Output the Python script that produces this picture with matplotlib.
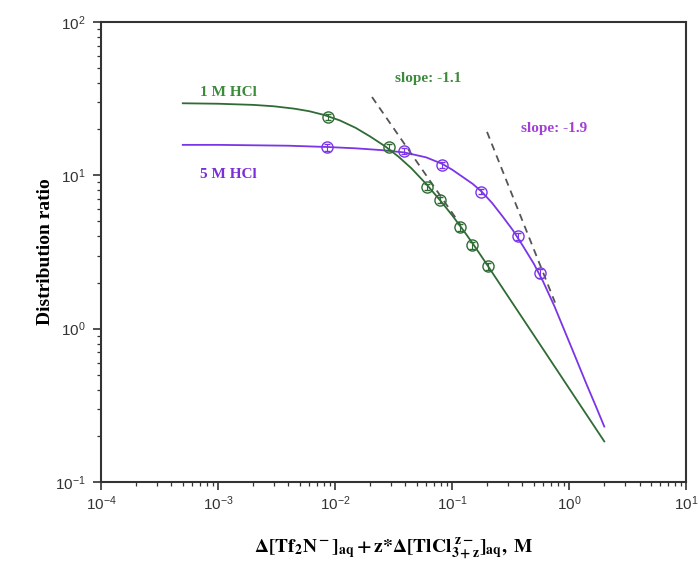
import matplotlib
matplotlib.use("Agg")
import matplotlib.pyplot as plt
from matplotlib.ticker import LogLocator, LogFormatterMathtext, NullFormatter

plt.rcParams['font.family'] = ['Liberation Sans', 'DejaVu Sans']
plt.rcParams['mathtext.default'] = 'regular'

# measured points, 1 M HCl
x_1m = [0.0087, 0.029, 0.061, 0.079, 0.117, 0.148, 0.203]
d_1m = [24.0, 15.3, 8.4, 6.9, 4.6, 3.5, 2.55]
err_1m = [1.0, 0.7, 0.4, 0.3, 0.25, 0.2, 0.15]

# measured points, 5 M HCl
x_5m = [0.0086, 0.039, 0.082, 0.177, 0.366, 0.565]
d_5m = [15.3, 14.4, 11.7, 7.8, 4.0, 2.3]
err_5m = [0.8, 0.6, 0.5, 0.3, 0.2, 0.15]

# fitted curves
fit_x_1m = [5e-4, 1e-3, 2e-3, 3e-3, 4.5e-3, 6e-3, 8e-3, 0.011, 0.015, 0.02,
            0.027, 0.035, 0.045, 0.06, 0.08, 0.1, 0.13, 0.16, 0.2, 0.3,
            0.5, 0.8, 1.2, 2.0]
fit_d_1m = [29.5, 29.3, 28.8, 28.2, 27.2, 26.2, 24.8, 22.8, 20.4, 17.9,
            15.4, 13.2, 11.1, 8.8, 6.8, 5.5, 4.2, 3.35, 2.6, 1.63,
            0.907, 0.528, 0.331, 0.184]

fit_x_5m = [5e-4, 1e-3, 2e-3, 4e-3, 8.6e-3, 0.015, 0.025, 0.039, 0.06, 0.082,
            0.1, 0.12, 0.15, 0.18, 0.22, 0.27, 0.33, 0.4, 0.5, 0.6,
            0.75, 0.9, 1.1, 1.4, 1.7, 2.0]
fit_d_5m = [15.8, 15.8, 15.7, 15.6, 15.3, 15.0, 14.6, 14.1, 13.1, 11.9,
            10.9, 9.9, 8.8, 7.8, 6.6, 5.4, 4.4, 3.5, 2.65, 2.03,
            1.4, 1.0, 0.69, 0.44, 0.31, 0.23]

# slope guide lines
slope1_x = [0.0207, 0.117]
slope1_d = [32.4, 4.8]
slope2_x = [0.199, 0.759]
slope2_d = [19.2, 1.48]

green = '#2f6b35'
purple = '#7a35e8'
serif = 'Liberation Serif'

fig = plt.figure(figsize=(6.99, 5.68), dpi=100)
ax = fig.add_axes([0.1445, 0.1514, 0.837, 0.8099])

ax.plot(fit_x_1m, fit_d_1m, color=green, lw=1.3)
ax.plot(fit_x_5m, fit_d_5m, color=purple, lw=1.3)
ax.plot(slope1_x, slope1_d, color='#555555', lw=1.3, ls=(0, (4, 3)))
ax.plot(slope2_x, slope2_d, color='#555555', lw=1.3, ls=(0, (4, 3)))

ax.errorbar(x_1m, d_1m, yerr=err_1m, fmt='o', mfc='none', mec=green,
            ecolor=green, ms=8, mew=1.0, elinewidth=0.8, capsize=2)
ax.errorbar(x_5m, d_5m, yerr=err_5m, fmt='o', mfc='none', mec=purple,
            ecolor=purple, ms=8, mew=1.0, elinewidth=0.8, capsize=2)

ax.set_xscale('log')
ax.set_yscale('log')
ax.set_xlim(1e-4, 1e1)
ax.set_ylim(1e-1, 1e2)

for a in (ax.xaxis, ax.yaxis):
    a.set_major_locator(LogLocator(base=10, numticks=10))
    a.set_minor_locator(LogLocator(base=10, subs=range(2, 10), numticks=10))
    a.set_major_formatter(LogFormatterMathtext())
    a.set_minor_formatter(NullFormatter())

ax.tick_params(which='both', direction='out', top=False, right=False,
               colors='#333333', labelsize=11)
ax.tick_params(which='major', length=6, width=1.2)
ax.tick_params(axis='x', which='major', pad=3)
ax.tick_params(axis='y', which='major', pad=5)
ax.tick_params(which='minor', length=3, width=0.9)
for s in ax.spines.values():
    s.set_linewidth(1.5)
    s.set_color('#333333')

ax.text(0.218, 0.846, '1 M HCl', transform=ax.transAxes, color='#3c8a3c',
        fontsize=11, fontweight='bold', family=serif, ha='center', va='center')
ax.text(0.218, 0.668, '5 M HCl', transform=ax.transAxes, color='#7b2fd8',
        fontsize=11, fontweight='bold', family=serif, ha='center', va='center')
ax.text(0.56, 0.878, 'slope: -1.1', transform=ax.transAxes, color='#3c8a3c',
        fontsize=11, fontweight='bold', family=serif, ha='center', va='center')
ax.text(0.774, 0.769, 'slope: -1.9', transform=ax.transAxes, color='#a23fd6',
        fontsize=11, fontweight='bold', family=serif, ha='center', va='center')

ax.set_ylabel('Distribution ratio', fontsize=14, fontweight='bold',
              family=serif, labelpad=1)
ax.set_xlabel(r'$\mathbf{\Delta[Tf_2N^-]_{aq} + z{*}\Delta[TlCl_{3+z}^{\ z-}]_{aq},\ M}$',
              fontsize=14, math_fontfamily='stix', labelpad=17)

fig.savefig('out.png', dpi=100)
